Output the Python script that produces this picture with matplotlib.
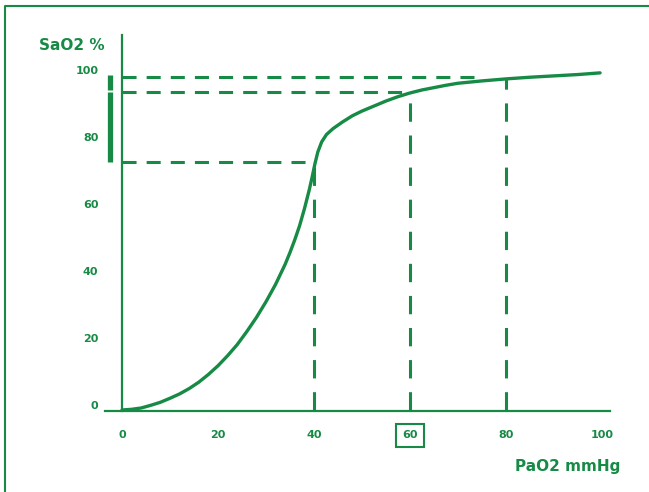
import matplotlib
matplotlib.use("Agg")
import matplotlib.pyplot as plt
from matplotlib.lines import Line2D
from matplotlib.transforms import ScaledTranslation

# Oxygen dissociation curve
pao2 = [0, 2, 4, 6, 8, 10, 12, 14, 16, 18, 20, 22, 24, 26, 28, 30, 32, 34,
        35, 36, 37, 38, 39, 39.6, 40.2, 40.8, 41.6, 42.6, 44, 46, 48, 50,
        52.5, 55, 57.5, 60, 62.5, 65, 67.5, 70, 75, 80, 85, 90, 95, 99.6]
sao2 = [0, 0.2, 0.6, 1.4, 2.3, 3.5, 4.8, 6.4, 8.3, 10.6, 13.2, 16.2, 19.5,
        23.4, 27.6, 32.3, 37.5, 43.5, 47, 50.8, 55, 60, 65.6, 69.4, 73.5, 77,
        80, 82.2, 84, 86, 87.8, 89.2, 90.7, 92.2, 93.5, 94.6, 95.5, 96.2,
        96.9, 97.5, 98.2, 98.8, 99.3, 99.7, 100.1, 100.6]

# reference guides: horizontal dashes (to the curve) and verticals (down to axis)
h_end_x = [40, 60, 75]
h_y = [74, 95, 99.4]
v_x = [40, 60, 80]
v_top = [74, 95, 98.8]

# bracket on the left (normal range)
range_low = [74, 95.6]
range_high = [95.0, 100]

xticks = [0, 20, 40, 60, 80, 100]
yticks = [0, 20, 40, 60, 80, 100]

green = '#178a45'
font = ['Liberation Sans Narrow', 'DejaVu Sans']

fig = plt.figure(figsize=(6.49, 4.92), dpi=100)
ax = fig.add_axes([105 / 649, 81 / 492, 505 / 649, 376 / 492])
ax.set_xlim(-3.54, 101.67)
ax.set_ylim(-0.3, 111.9)

ax.plot(pao2, sao2, color=green, lw=2.4, solid_capstyle='round',
        solid_joinstyle='round', zorder=5)

for xe, y in zip(h_end_x, h_y):
    ax.plot([0, xe], [y, y], color=green, lw=2.2, dashes=(4.6, 3.3))
for x, yt in zip(v_x, v_top):
    ax.plot([x, x], [0, yt], color=green, lw=2.2, dashes=(6, 4.5))

for lo, hi in zip(range_low, range_high):
    ax.plot([-2.6, -2.6], [lo, hi], color=green, lw=3.8,
            solid_capstyle='butt', clip_on=False)

for s in ['top', 'right']:
    ax.spines[s].set_visible(False)
ax.spines['left'].set_position(('data', 0))
for s in ['left', 'bottom']:
    ax.spines[s].set_color(green)
    ax.spines[s].set_linewidth(1.6)

ax.set_xticks(xticks)
ax.set_yticks(yticks)
ax.set_xticklabels([str(t) for t in xticks])
ax.set_yticklabels([str(t) for t in yticks])
ax.tick_params(length=0, colors=green)
ax.tick_params(axis='x', pad=14)
ax.tick_params(axis='y', pad=17)
for lbl in ax.get_xticklabels() + ax.get_yticklabels():
    lbl.set_fontfamily(font)
    lbl.set_fontweight('bold')
    lbl.set_fontsize(8)
    lbl.set_color(green)
off = ScaledTranslation(0, 5 / 100, fig.dpi_scale_trans)
for lbl in ax.get_yticklabels():
    lbl.set_transform(lbl.get_transform() + off)
ax.get_xticklabels()[3].set_bbox(dict(boxstyle='square,pad=0.55', fc='none',
                                      ec=green, lw=1.5))

fig.text(72 / 649, 1 - 46 / 492, 'SaO2 %', color=green, fontsize=11,
         fontweight='bold', family=font, ha='center', va='center')
fig.text(620 / 649, 1 - 466 / 492, 'PaO2 mmHg', color=green, fontsize=11,
         fontweight='bold', family=font, ha='right', va='center')

# frame, only left and top edges show
fig.add_artist(Line2D([5 / 649, 5 / 649, 1], [0, 1 - 6 / 492, 1 - 6 / 492],
                      transform=fig.transFigure, color=green, lw=1.5))

fig.savefig('out.png', dpi=100)
